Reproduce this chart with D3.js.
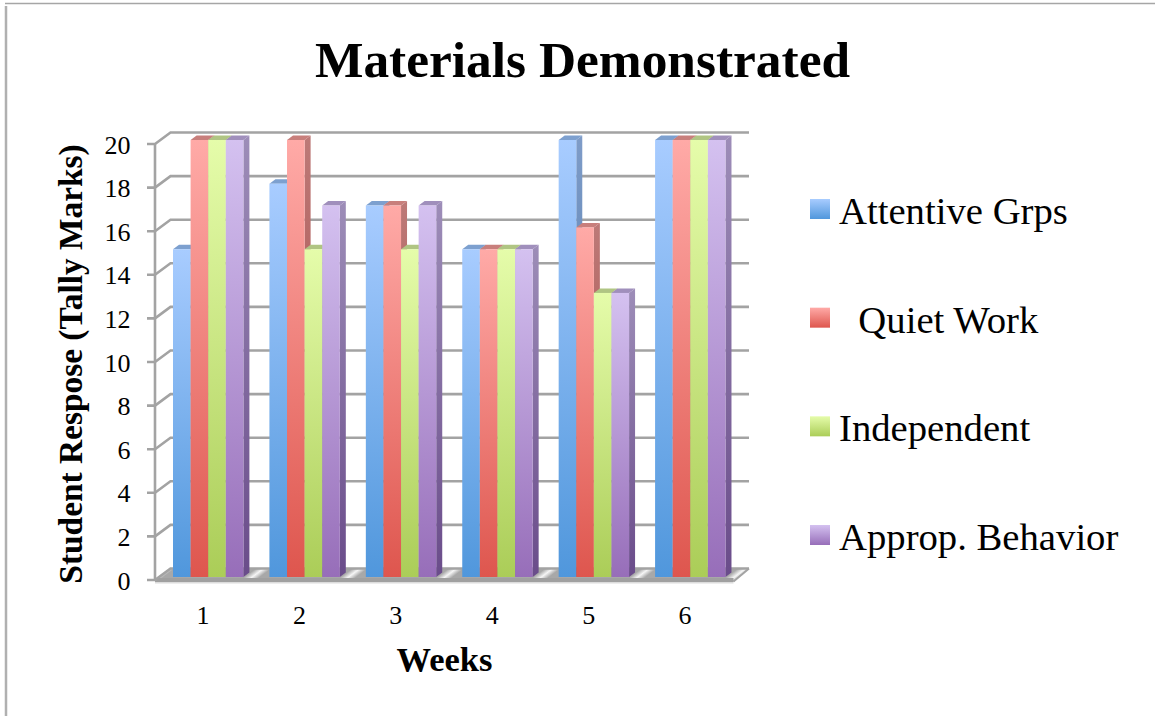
<!DOCTYPE html>
<html><head><meta charset="utf-8"><script src="https://cdn.jsdelivr.net/npm/d3@7/dist/d3.min.js"></script>
<style>html,body{margin:0;background:#fff}svg{display:block}text{font-family:"Liberation Serif",serif;fill:#000}</style></head>
<body><svg id="c" width="1155" height="716"></svg>
<script>
const weeks = ["1","2","3","4","5","6"];
const seriesNames = ["Attentive Grps","Quiet Work","Independent","Approp. Behavior"];
const legendLabels = ["Attentive Grps","\u00a0 Quiet Work","Independent","Approp. Behavior"];
const attentive = [15,18,17,15,20,20];
const quiet = [20,20,17,15,16,20];
const independent = [20,15,15,15,13,20];
const approp = [20,17,17,15,13,20];
const yTicks = [0,2,4,6,8,10,12,14,16,18,20];
const chartTitle = "Materials Demonstrated";
const xTitle = "Weeks";
const yTitle = "Student Respose (Tally Marks)";
const seriesValues = [attentive, quiet, independent, approp];
const tops = ["#a8ccff","#ffaaa7","#e5fcaa","#d4c1f0"];
const bottoms = ["#5097dc","#de564e","#abcd58","#976eb9"];
const sideTops = ["#7f9cc8","#bd7a78","#adc07f","#9d8db8"];
const sideBottoms = ["#3a6ea3","#a33c38","#7d9a3e","#6a4c8a"];
const topFaces = ["#7da0cf","#c87f7c","#b0c583","#a08fbc"];

const svg = d3.select("#c");
const defs = svg.append("defs");
function grad(id, a, b){
  const g = defs.append("linearGradient").attr("id",id).attr("x1",0).attr("y1",0).attr("x2",0).attr("y2",1);
  g.append("stop").attr("offset",0).attr("stop-color",a);
  g.append("stop").attr("offset",1).attr("stop-color",b);
}
tops.forEach((t,i)=>{grad("f"+i,t,bottoms[i]);grad("s"+i,sideTops[i],sideBottoms[i]);});

svg.append("path").attr("d","M6,716V6").attr("stroke","#b0b0b0").attr("stroke-width",2.5);
svg.append("path").attr("d","M5,3.5H1155").attr("stroke","#a6a6a6").attr("stroke-width",1.5);

const y = d3.scaleLinear().domain([0,20]).range([580,144]);
const dx = 15.5, dy = -11.5;
const x0 = d3.scaleBand().domain(weeks).range([155,733.5]);
const xs = d3.scaleBand().domain(d3.range(4)).range([0,70.4]);
const groupLeft = w => 173 + weeks.indexOf(w)*x0.step();
const bar0 = 577, barScale = d3.scaleLinear().domain([0,20]).range([bar0,140]);
const depthX = 6, depthY = -4.5;
const axisColor = "#a3a3a3";
const x1 = x0.range()[1];

// floor sheen repeats once per week, centred on the gaps between groups
const fg = defs.append("linearGradient").attr("id","floor").attr("gradientUnits","userSpaceOnUse")
  .attr("spreadMethod","repeat").attr("x1",0).attr("y1",0).attr("x2",x0.step()).attr("y2",0)
  .attr("gradientTransform",`translate(${groupLeft("1")+35},574) skewX(-53)`);
[[0,"#a8a8a8"],[.42,"#a8a8a8"],[.5,"#f6f6f6"],[.58,"#a8a8a8"],[1,"#a8a8a8"]].forEach(([o,c])=>{
  fg.append("stop").attr("offset",o).attr("stop-color",c);
});

svg.append("rect").attr("x",155).attr("y",y(0)+1).attr("width",x1-155).attr("height",2.5).attr("fill","#dcdcdc");
svg.append("path").attr("d",`M${155},${y(0)}L${155+dx},${y(0)+dy}L${x1+dx},${y(0)+dy}L${x1},${y(0)+1.5}Z`)
  .attr("fill","url(#floor)");
svg.append("path").attr("d",`M${x1},${y(0)+1.5}L${x1+dx},${y(0)+dy}`).attr("stroke","#a3a3a3").attr("stroke-width",2);
svg.append("rect").attr("x",155).attr("y",y(0)-2).attr("width",x1-155).attr("height",4).attr("fill","#a0a0a0");

const grid = svg.append("g").attr("fill","none").attr("stroke",axisColor).attr("stroke-width",2.6);
yTicks.forEach(t=>{
  grid.append("path").attr("d",`M147,${y(t)}H155L${155+dx},${y(t)+dy}H${x1+dx}`);
});
grid.append("path").attr("d",`M155,${y(20)}V${y(0)+1}`);

weeks.forEach((w,wi)=>{
  seriesValues.forEach((vals,si)=>{
    const v = vals[wi];
    const g = svg.append("g");
    const l = groupLeft(w)+xs(si), bw = xs.bandwidth(), r = l+bw, t = barScale(v);
    g.append("path").attr("d",`M${r},${t}L${r+depthX},${t+depthY}V${bar0+depthY}L${r},${bar0}Z`).attr("fill",`url(#s${si})`);
    g.append("path").attr("d",`M${l},${t}L${l+depthX},${t+depthY}H${r+depthX}L${r},${t}Z`).attr("fill",topFaces[si]);
    g.append("rect").attr("x",l).attr("y",t).attr("width",bw).attr("height",bar0-t).attr("fill",`url(#f${si})`);
  });
});

const tf = 26;
svg.append("g").selectAll("text").data(yTicks).join("text").attr("x",130.5).attr("y",d=>y(d)+9.5)
  .attr("text-anchor","end").attr("font-size",tf).text(d=>d);
svg.append("g").selectAll("text").data(weeks).join("text").attr("x",w=>groupLeft(w)+30).attr("y",624)
  .attr("text-anchor","middle").attr("font-size",tf).text(d=>d);

svg.append("text").attr("x",582.5).attr("y",77).attr("text-anchor","middle").attr("font-size",51.4).attr("font-weight","bold").text(chartTitle);
svg.append("text").attr("x",444.5).attr("y",671).attr("text-anchor","middle").attr("font-size",34.5).attr("font-weight","bold").text(xTitle);
svg.append("text").attr("transform","translate(82,364) rotate(-90)").attr("text-anchor","middle").attr("font-size",33.4).attr("font-weight","bold").text(yTitle);

const ly = d3.scalePoint().domain(seriesNames).range([212,538]);
const lg = svg.append("g").selectAll("g").data(seriesNames).join("g").attr("transform",d=>`translate(810,${ly(d)})`);
lg.append("rect").attr("x",0).attr("y",-13).attr("width",20).attr("height",20).attr("fill",(d,i)=>`url(#f${i})`);
lg.append("text").attr("x",29).attr("y",12).attr("font-size",38.7).text((d,i)=>legendLabels[i]);
</script></body></html>
